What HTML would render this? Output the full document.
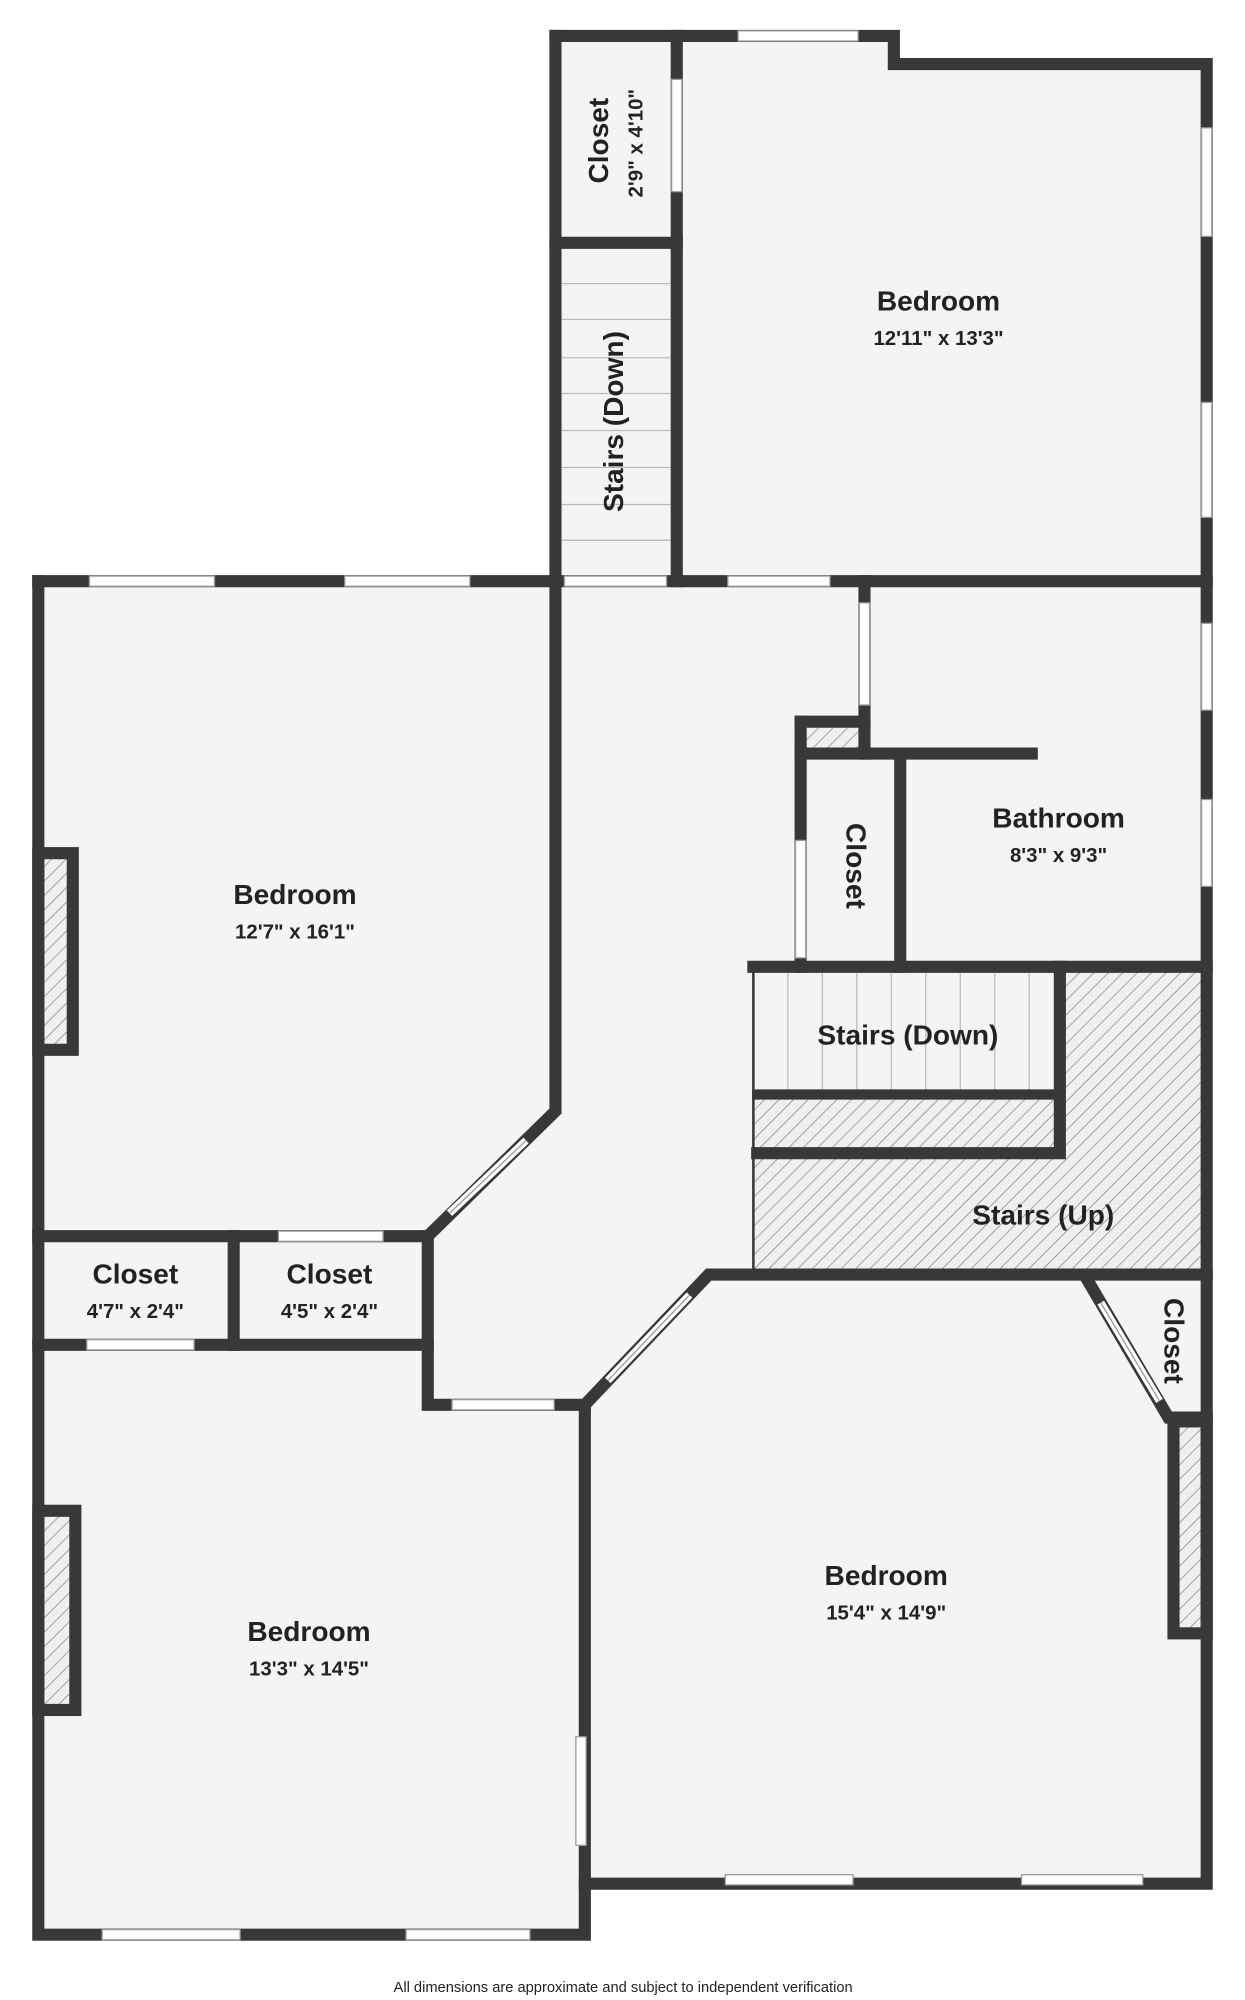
<!DOCTYPE html>
<html><head><style>html,body{margin:0;padding:0;background:#fff}svg{display:block}</style></head>
<body>
<svg width="1245" height="2000" viewBox="0 0 975 1566" xmlns="http://www.w3.org/2000/svg" font-family="'Liberation Sans', 'DejaVu Sans', sans-serif">
<defs>
<pattern id="h" width="8" height="8" patternUnits="userSpaceOnUse" patternTransform="rotate(45)">
<rect width="8" height="8" fill="#efefef"/><line x1="0" y1="0" x2="0" y2="8" stroke="#777" stroke-width="1"/></pattern>
</defs>
<polygon fill="#f4f4f4" points="435,28 700,28 700,50 945,50 945,1475 458,1475 458,1515 30,1515 30,455 435,455"/>
<rect x="590" y="757" width="355" height="241" fill="url(#h)"/>
<rect x="590" y="757" width="240" height="100" fill="#f4f4f4"/>
<rect x="597" y="860" width="232" height="40" fill="url(#h)"/>
<rect x="630" y="565" width="45" height="25" fill="url(#h)"/>
<rect x="33" y="670" width="24" height="150" fill="url(#h)"/>
<rect x="33" y="1185" width="26" height="152" fill="url(#h)"/>
<rect x="919" y="1115" width="24" height="162" fill="url(#h)"/>
<g stroke="#bbb" stroke-width="1">
<line x1="440" y1="222" x2="525" y2="222"/><line x1="440" y1="250" x2="525" y2="250"/><line x1="440" y1="280" x2="525" y2="280"/><line x1="440" y1="308" x2="525" y2="308"/><line x1="440" y1="337" x2="525" y2="337"/><line x1="440" y1="366" x2="525" y2="366"/><line x1="440" y1="395" x2="525" y2="395"/><line x1="440" y1="423" x2="525" y2="423"/>
<line x1="617" y1="762" x2="617" y2="855"/><line x1="644" y1="762" x2="644" y2="855"/><line x1="671" y1="762" x2="671" y2="855"/><line x1="698" y1="762" x2="698" y2="855"/><line x1="725" y1="762" x2="725" y2="855"/><line x1="752" y1="762" x2="752" y2="855"/><line x1="779" y1="762" x2="779" y2="855"/><line x1="806" y1="762" x2="806" y2="855"/>
</g>
<g stroke="#383838" stroke-width="9.5" stroke-linecap="square" fill="none">
<polyline points="435,28 700,28 700,50 945,50 945,1475 458,1475"/>
<polyline points="435,455 435,28"/>
<line x1="530" y1="28" x2="530" y2="455"/>
<line x1="435" y1="190" x2="530" y2="190"/>
<line x1="30" y1="455" x2="945" y2="455"/>
<polyline points="30,455 30,1515 458,1515 458,1100 555,998 945,998"/>
<polyline points="435,455 435,870 335,968 30,968"/>
<line x1="183" y1="968" x2="183" y2="1053"/>
<polyline points="335,968 335,1100 458,1100"/>
<line x1="30" y1="1053" x2="335" y2="1053"/>
<polyline points="852,1003 915,1110 945,1110"/>
<polyline points="677,455 677,590 627,590 627,757"/>
<line x1="627" y1="565" x2="677" y2="565"/>
<line x1="627" y1="565" x2="627" y2="590"/>
<line x1="677" y1="590" x2="808" y2="590"/>
<line x1="705" y1="590" x2="705" y2="757"/>
<line x1="590" y1="757" x2="945" y2="757"/>
<polyline points="830,757 830,903 593,903"/>
<line x1="593" y1="857" x2="830" y2="857" stroke-width="8"/>
<line x1="590" y1="757" x2="590" y2="998" stroke-width="2"/>
<rect x="30" y="668" width="27" height="154"/>
<rect x="30" y="1183" width="29" height="156"/>
<rect x="919" y="1113" width="26" height="166"/>
</g>
<g fill="#fff" stroke="#999" stroke-width="1">
<rect x="578" y="24" width="94" height="8"/>
<rect x="941" y="100" width="8" height="85"/><rect x="941" y="315" width="8" height="90"/>
<rect x="941" y="488" width="8" height="68"/><rect x="941" y="626" width="8" height="68"/>
<rect x="526" y="62" width="8" height="88"/>
<rect x="70" y="451" width="98" height="8"/><rect x="270" y="451" width="98" height="8"/>
<rect x="442" y="451" width="80" height="8"/><rect x="570" y="451" width="80" height="8"/>
<rect x="673" y="472" width="8" height="80"/>
<rect x="623" y="658" width="8" height="92"/>
<rect x="218" y="964" width="82" height="8"/><rect x="68" y="1049" width="84" height="8"/>
<rect x="354" y="1096" width="80" height="8"/>
<rect x="451" y="1360" width="8" height="85"/>
<rect x="80" y="1511" width="108" height="8"/><rect x="318" y="1511" width="97" height="8"/>
<rect x="568" y="1468" width="100" height="8"/><rect x="800" y="1468" width="95" height="8"/>
</g>
<g stroke="#fff" stroke-width="6"><line x1="352" y1="950" x2="412" y2="893"/><line x1="476" y1="1081" x2="540" y2="1014"/><line x1="862" y1="1020" x2="908" y2="1097"/></g>
<g stroke="#999" stroke-width="1" fill="none"><line x1="352" y1="950" x2="412" y2="893"/><line x1="476" y1="1081" x2="540" y2="1014"/><line x1="862" y1="1020" x2="908" y2="1097"/></g>
<g fill="#222" text-anchor="middle" font-weight="bold">
<text x="735" y="243" font-size="22">Bedroom</text><text x="735" y="270" font-size="16">12'11" x 13'3"</text>
<text x="231" y="708" font-size="22">Bedroom</text><text x="231" y="735" font-size="16">12'7" x 16'1"</text>
<text x="829" y="648" font-size="22">Bathroom</text><text x="829" y="675" font-size="16">8'3" x 9'3"</text>
<text x="711" y="818" font-size="22">Stairs (Down)</text>
<text x="817" y="959" font-size="22">Stairs (Up)</text>
<text x="106" y="1005" font-size="22">Closet</text><text x="106" y="1032" font-size="16">4'7" x 2'4"</text>
<text x="258" y="1005" font-size="22">Closet</text><text x="258" y="1032" font-size="16">4'5" x 2'4"</text>
<text x="242" y="1285" font-size="22">Bedroom</text><text x="242" y="1312" font-size="16">13'3" x 14'5"</text>
<text x="694" y="1241" font-size="22">Bedroom</text><text x="694" y="1268" font-size="16">15'4" x 14'9"</text>
<text transform="translate(476,110) rotate(-90)" font-size="22">Closet</text>
<text transform="translate(503,112) rotate(-90)" font-size="16">2'9" x 4'10"</text>
<text transform="translate(488,330) rotate(-90)" font-size="22">Stairs (Down)</text>
<text transform="translate(663,678) rotate(90)" font-size="22">Closet</text>
<text transform="translate(912,1050) rotate(90)" font-size="22">Closet</text>
<text x="488" y="1560" font-size="11.5" font-weight="normal">All dimensions are approximate and subject to independent verification</text>
</g>
</svg>
</body></html>
